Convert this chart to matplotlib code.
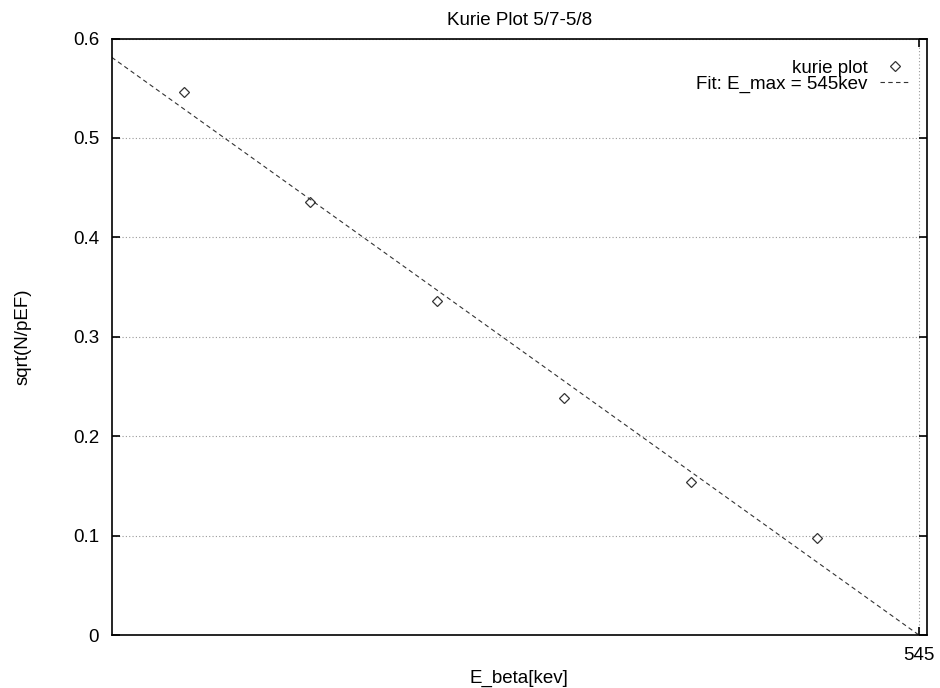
import numpy as np
import matplotlib
matplotlib.use("Agg")
import matplotlib.pyplot as plt

plt.rcParams['font.family'] = ['Liberation Sans', 'DejaVu Sans']

# measured Kurie points
energy = [400, 425, 450, 475, 500, 525]
kurie = [0.546, 0.436, 0.336, 0.238, 0.154, 0.0975]

# linear fit, crossing zero at E_max
e_max = 545
slope = 0.00365
x_range = (385.8, 546.6)

fs = 13.5

fig = plt.figure(figsize=(9.4, 6.88), dpi=100)
ax = fig.add_axes([111.7 / 940, 1 - 635 / 688, (927 - 111.7) / 940, (635 - 38.5) / 688])

ax.plot(energy, kurie, linestyle='none', marker='D', markersize=5,
        markerfacecolor='white', markeredgecolor='#333333', markeredgewidth=0.9,
        label='kurie plot')
fit_x = np.array(x_range)
ax.plot(fit_x, slope * (e_max - fit_x), linestyle=(0, (4, 3)), color='#333333',
        linewidth=0.8, label='Fit: E_max = 545kev')

ax.set_xlim(*x_range)
ax.set_ylim(0, 0.6)
ax.set_xticks([e_max])
ax.set_yticks([0, 0.1, 0.2, 0.3, 0.4, 0.5, 0.6])
ax.set_yticklabels(['0', '0.1', '0.2', '0.3', '0.4', '0.5', '0.6'])
ax.tick_params(direction='in', length=6, width=1.2, labelsize=fs,
               top=True, right=True, pad=9)
ax.grid(True, linestyle=(0, (1, 2)), color='#999999', linewidth=0.8)
for s in ax.spines.values():
    s.set_linewidth(1.2)

ax.set_title('Kurie Plot 5/7-5/8', fontsize=fs, pad=10)
ax.set_ylabel('sqrt(N/pEF)', fontsize=fs, labelpad=29.5)
ax.set_xlabel('E_beta[kev]', fontsize=fs, labelpad=4)

leg = ax.legend(loc='upper right', frameon=False, fontsize=fs, markerfirst=False,
                handlelength=1.6, handletextpad=0.65, borderaxespad=0.2,
                labelspacing=-0.07, bbox_to_anchor=(0.9926, 0.983))
for t in leg.get_texts():
    t.set_ha('right')

fig.savefig('out.png', dpi=100)
